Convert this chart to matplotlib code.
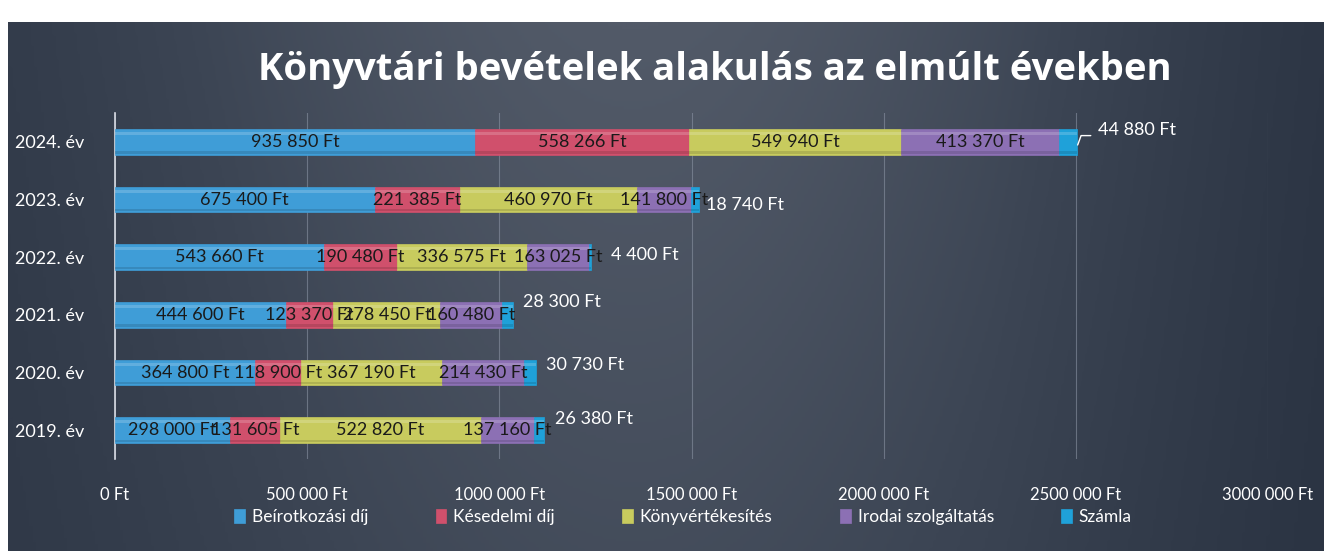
import numpy as np
import matplotlib.pyplot as plt
from matplotlib.colors import LinearSegmentedColormap

# Data (Ft)
years = ["2019. év", "2020. év", "2021. év", "2022. év", "2023. év", "2024. év"]
beirat = [298000, 364800, 444600, 543660, 675400, 935850]
kesedelmi = [131605, 118900, 123370, 190480, 221385, 558266]
konyv = [522820, 367190, 278450, 336575, 460970, 549940]
irodai = [137160, 214430, 160480, 163025, 141800, 413370]
szamla = [26380, 30730, 28300, 4400, 18740, 44880]
series_names = ["Beírotkozási díj", "Késedelmi díj", "Könyvértékesítés",
                "Irodai szolgáltatás", "Számla"]
xticks = [0, 500000, 1000000, 1500000, 2000000, 2500000, 3000000]
xtick_labels = ["0 Ft", "500 000 Ft", "1000 000 Ft", "1500 000 Ft",
                "2000 000 Ft", "2500 000 Ft", "3000 000 Ft"]

colors = ["#3f9dd7", "#d0506c", "#c8cb5e", "#8c70b4", "#1fa1d9"]
# offsets (px) of the outside "Számla" labels from the bar end
lab_off = [(11, 11), (10, 7), (10, 13), (20, 2), (7, -5), (21, 12)]

plt.rcParams['font.family'] = ['Lato', 'DejaVu Sans']

W, H = 1324, 551
fig = plt.figure(figsize=(W / 100, H / 100), dpi=100)
fig.patch.set_facecolor("white")

# dark background panel with soft gradient
bg = fig.add_axes([8 / W, 0, 1 - 8 / W, 1 - 22 / H])
bg.set_axis_off()
xx = np.linspace(-1, 1, 400)
yy = np.linspace(0, 1, 200)
X, Y = np.meshgrid(xx, yy)
Z = np.exp(-((X + 0.05) ** 2) / 0.7) * (1 - 0.3 * Y) - 0.2 * np.clip(X - 0.5, 0, 1)
cmap = LinearSegmentedColormap.from_list("bg", ["#2b3443", "#3c4554", "#525a68"])
bg.imshow(Z, cmap=cmap, aspect="auto", extent=[0, 1, 0, 1], origin="upper")
bg.set_xlim(0, 1)
bg.set_ylim(0, 1)

ax = fig.add_axes([115 / W, 1 - 459 / H, (1268 - 115) / W, 346 / H])
ax.patch.set_alpha(0)

y = np.arange(len(years))
data = [beirat, kesedelmi, konyv, irodai, szamla]
left = np.zeros(len(years))
bh = 0.44
for i, (vals, c, name) in enumerate(zip(data, colors, series_names)):
    vals = np.array(vals, dtype=float)
    ax.barh(y, vals, left=left, height=bh, color=c, edgecolor=c, linewidth=0.5,
            label=name, zorder=3)
    # glossy highlight
    ax.barh(y + bh * 0.33, vals, left=left, height=bh * 0.12, color="white",
            alpha=0.18, linewidth=0, zorder=4)
    ax.barh(y - bh * 0.42, vals, left=left, height=bh * 0.08, color="black",
            alpha=0.12, linewidth=0, zorder=4)
    for j, v in enumerate(vals):
        txt = f"{int(v):,} Ft".replace(",", " ")
        if i < 4:
            ax.text(left[j] + v / 2, y[j], txt, ha="center", va="center",
                    fontsize=13, color="#1a1a1a", zorder=5)
        else:
            end = left[j] + v
            dx, dy = lab_off[j]
            ax.annotate(txt, (end, y[j]), xytext=(dx * 0.72, dy * 0.72),
                        textcoords="offset points", ha="left", va="center",
                        fontsize=13, color="white", zorder=5)
            if j == len(years) - 1:
                ax.annotate("", (end, y[j] - 0.1), xytext=(dx * 0.72 - 3, dy * 0.72),
                            textcoords="offset points",
                            arrowprops=dict(arrowstyle="-", color="white", lw=1,
                                            connectionstyle="angle,angleA=0,angleB=70"),
                            zorder=5)
    left = left + vals

ax.set_xlim(0, 3000000)
ax.set_ylim(-0.5, len(years) - 0.5)
ax.set_xticks(xticks)
ax.set_xticklabels(xtick_labels)
ax.set_yticks(y)
ax.set_yticklabels(years)
ax.tick_params(axis="x", colors="white", labelsize=12, length=0, pad=20)
ax.tick_params(axis="y", colors="white", labelsize=13, length=0, pad=22)
ax.grid(axis="x", color="#8a93a3", linewidth=0.8, alpha=0.6, zorder=0)
for s in ["top", "right", "bottom"]:
    ax.spines[s].set_visible(False)
ax.spines["left"].set_color("#d8dce4")
ax.spines["left"].set_linewidth(1.2)

fig.text(715 / W, 1 - 70 / H, "Könyvtári bevételek alakulás az elmúlt években",
         ha="center", va="center", fontsize=27.5, fontweight="bold", color="white",
         family=["Open Sans", "DejaVu Sans"])

handles, labels = ax.get_legend_handles_labels()
leg = fig.legend(handles, labels, loc="center", bbox_to_anchor=(683 / W, 1 - 517 / H),
                 ncol=5, frameon=False, fontsize=12.5, handlelength=0.6, handleheight=0.8,
                 handletextpad=0.4, columnspacing=3.9, labelcolor="white")

fig.savefig("out.png", dpi=100, facecolor=fig.get_facecolor())
